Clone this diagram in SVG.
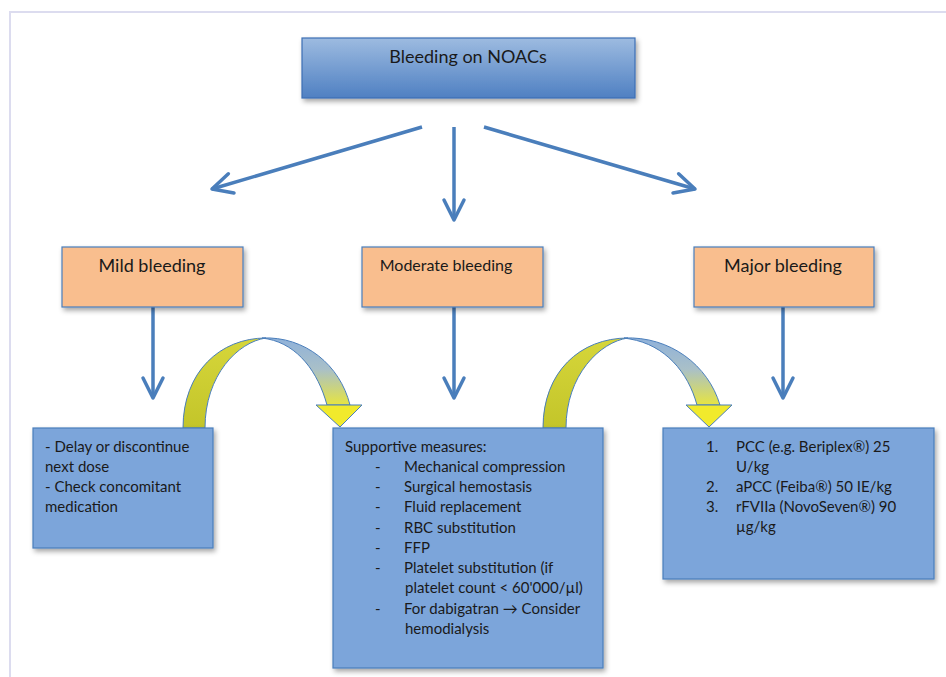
<svg xmlns="http://www.w3.org/2000/svg" width="946" height="677" viewBox="0 0 946 677">
<defs>
<linearGradient id="gTop" x1="0" y1="0" x2="0" y2="1">
<stop offset="0" stop-color="#9dbbe0"/>
<stop offset="1" stop-color="#4f80c2"/>
</linearGradient>
<linearGradient id="gArcL" x1="0" y1="0" x2="0" y2="1">
<stop offset="0" stop-color="#d6d63a"/>
<stop offset="1" stop-color="#c3c52a"/>
</linearGradient>
<linearGradient id="gArcR" x1="0" y1="338" x2="0" y2="427" gradientUnits="userSpaceOnUse">
<stop offset="0" stop-color="#8fb1da"/>
<stop offset="0.35" stop-color="#a9c0c8"/>
<stop offset="0.75" stop-color="#e6e442"/>
<stop offset="1" stop-color="#f3ec22"/>
</linearGradient>
<filter id="sh" x="-10%" y="-10%" width="125%" height="130%">
<feDropShadow dx="2" dy="3" stdDeviation="2.5" flood-color="#000" flood-opacity="0.35"/>
</filter>
<marker id="ah" markerUnits="userSpaceOnUse" viewBox="-24 -13 28 26" refX="0" refY="0" markerWidth="28" markerHeight="26" orient="auto">
<path d="M-20,-10 L0,0 L-20,10" fill="none" stroke="#4a7ebb" stroke-width="3.5" stroke-linecap="round" stroke-linejoin="round"/>
</marker>
</defs>
<style>
.t{font-family:Lato,"Liberation Sans",sans-serif;fill:#1a1a1a}
.h{font-size:18px}
.b{font-size:15px}
.blue{fill:#7ca5da;stroke:#4a7ebb;stroke-width:1.2}
.org{fill:#f9be8e;stroke:#4a7ebb;stroke-width:1.2}
.conn{stroke:#4a7ebb;stroke-width:3.5;fill:none;marker-end:url(#ah)}
.arc{stroke:#4a7ebb;stroke-width:1}
</style>
<rect x="0" y="0" width="946" height="677" fill="#ffffff"/>
<rect x="10" y="12" width="945" height="675" fill="none" stroke="#dcdcef" stroke-width="2"/>

<g id="connectors">
<line class="conn" x1="422" y1="127" x2="212" y2="189"/>
<line class="conn" x1="454" y1="127" x2="454" y2="220"/>
<line class="conn" x1="484" y1="127" x2="695" y2="189"/>
<line class="conn" x1="153" y1="307" x2="153" y2="398"/>
<line class="conn" x1="454" y1="307" x2="454" y2="398"/>
<line class="conn" x1="783" y1="307" x2="783" y2="398"/>
<g id="curve-left">
<path class="arc" fill="url(#gArcL)" d="M183,428 C183,372 220,338 266,338 C238,342 205,375 205,428 Z"/>
<path class="arc" fill="url(#gArcR)" d="M262,338 C305,336 340,365 350,405 L327,405 C318,372 298,345 268,339 Z"/>
<path class="arc" fill="#f1ea2c" d="M316,405 L362,405 L340,427 Z"/>
</g>
<g id="curve-right">
<path class="arc" fill="url(#gArcL)" d="M543,428 C543,372 580,338 628,338 C600,342 566,375 566,428 Z"/>
<path class="arc" fill="url(#gArcR)" d="M624,338 C670,336 708,365 720,405 L697,405 C688,372 665,345 630,339 Z"/>
<path class="arc" fill="#f1ea2c" d="M686,405 L732,405 L709,427 Z"/>
</g>
</g>

<g id="node-top">
<rect x="302" y="38" width="333" height="60" fill="url(#gTop)" stroke="#3c6fb4" stroke-width="1.2" filter="url(#sh)"/>
<text class="t h" x="468" y="63" text-anchor="middle">Bleeding on NOACs</text>
</g>
<g id="node-mild">
<rect class="org" x="62" y="247" width="181" height="60" filter="url(#sh)"/>
<text class="t h" x="152" y="272" text-anchor="middle">Mild bleeding</text>
</g>
<g id="node-moderate">
<rect class="org" x="362" y="247" width="181" height="60" filter="url(#sh)"/>
<text class="t" x="446" y="271" text-anchor="middle" font-size="16">Moderate bleeding</text>
</g>
<g id="node-major">
<rect class="org" x="694" y="247" width="180" height="60" filter="url(#sh)"/>
<text class="t h" x="783" y="272" text-anchor="middle">Major bleeding</text>
</g>

<g id="node-mild-actions">
<rect class="blue" x="33" y="428" width="180" height="120" filter="url(#sh)"/>
<text class="t b" x="45" y="452">- Delay or discontinue</text>
<text class="t b" x="45" y="472">next dose</text>
<text class="t b" x="45" y="492">- Check concomitant</text>
<text class="t b" x="45" y="512">medication</text>
</g>
<g id="node-moderate-actions">
<rect class="blue" x="333" y="428" width="270" height="240" filter="url(#sh)"/>
<text class="t b" x="345" y="452">Supportive measures:</text>
<text class="t b" x="375" y="472">-</text><text class="t b" x="404" y="472">Mechanical compression</text>
<text class="t b" x="375" y="492">-</text><text class="t b" x="404" y="492">Surgical hemostasis</text>
<text class="t b" x="375" y="512">-</text><text class="t b" x="404" y="512">Fluid replacement</text>
<text class="t b" x="375" y="533">-</text><text class="t b" x="404" y="533">RBC substitution</text>
<text class="t b" x="375" y="553">-</text><text class="t b" x="404" y="553">FFP</text>
<text class="t b" x="375" y="573">-</text><text class="t b" x="404" y="573">Platelet substitution (if</text>
<text class="t b" x="405" y="593">platelet count &lt; 60'000/µl)</text>
<text class="t b" x="375" y="614">-</text><text class="t b" x="404" y="614">For dabigatran → Consider</text>
<text class="t b" x="405" y="634">hemodialysis</text>
</g>
<g id="node-major-actions">
<rect class="blue" x="663" y="428" width="271" height="151" filter="url(#sh)"/>
<text class="t b" x="706" y="452">1.</text><text class="t b" x="736" y="452">PCC (e.g. Beriplex®) 25</text>
<text class="t b" x="736" y="472">U/kg</text>
<text class="t b" x="706" y="492">2.</text><text class="t b" x="736" y="492">aPCC (Feiba®) 50 IE/kg</text>
<text class="t b" x="706" y="512">3.</text><text class="t b" x="736" y="512">rFVIIa (NovoSeven®) 90</text>
<text class="t b" x="736" y="532">µg/kg</text>
</g>
</svg>
